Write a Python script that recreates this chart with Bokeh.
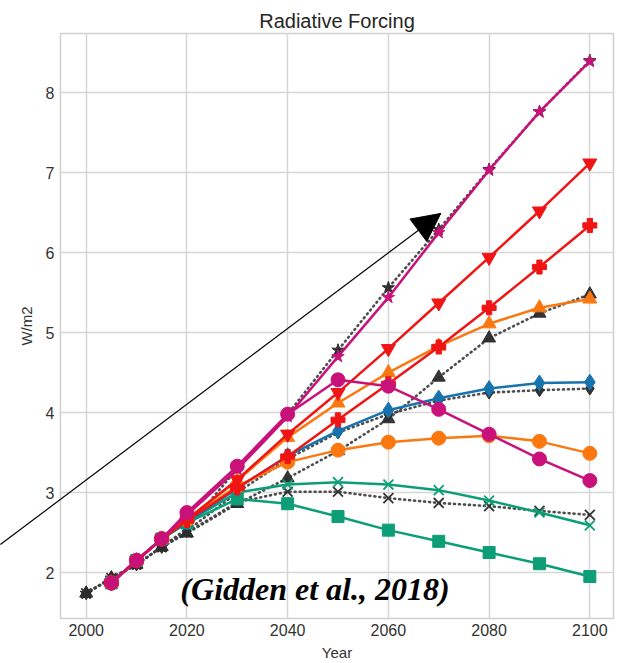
from bokeh.plotting import figure
from bokeh.models import Range1d, FixedTicker, Arrow, NormalHead, Label
from bokeh.embed import file_html
from bokeh.resources import INLINE

# ---- data -------------------------------------------------------------
years_scen = [2005, 2010, 2015, 2020, 2030, 2040, 2050, 2060, 2070, 2080, 2090, 2100]
years_ref = [2000, 2005, 2010, 2015, 2020, 2030, 2040, 2050, 2060, 2070, 2080, 2090, 2100]

# solid scenario lines (IAM results)
ssp119 = [1.87, 2.15, 2.42, 2.62, 2.92, 2.86, 2.70, 2.53, 2.39, 2.25, 2.11, 1.95]
ssp126 = [1.87, 2.15, 2.42, 2.63, 3.00, 3.10, 3.13, 3.10, 3.03, 2.90, 2.75, 2.59]
ssp245 = [1.87, 2.15, 2.42, 2.63, 3.05, 3.46, 3.77, 4.03, 4.18, 4.30, 4.37, 4.38]
ssp434 = [1.87, 2.15, 2.42, 2.66, 3.08, 3.38, 3.53, 3.63, 3.68, 3.71, 3.64, 3.49]
ssp460 = [1.87, 2.15, 2.42, 2.67, 3.15, 3.69, 4.12, 4.50, 4.83, 5.11, 5.31, 5.42]
ssp3lo = [1.87, 2.15, 2.42, 2.65, 3.06, 3.45, 3.91, 4.36, 4.82, 5.31, 5.82, 6.34]
ssp370 = [1.87, 2.15, 2.42, 2.66, 3.16, 3.73, 4.25, 4.80, 5.37, 5.94, 6.52, 7.12]
ssp534 = [1.87, 2.15, 2.42, 2.75, 3.33, 3.98, 4.41, 4.33, 4.04, 3.73, 3.42, 3.15]
ssp585 = [1.87, 2.15, 2.42, 2.72, 3.29, 3.95, 4.70, 5.44, 6.25, 7.03, 7.76, 8.39]

# dotted reference lines
ref26 = [1.74, 1.93, 2.10, 2.32, 2.50, 2.88, 3.01, 3.01, 2.93, 2.87, 2.83, 2.77, 2.72]
ref45 = [1.74, 1.93, 2.10, 2.32, 2.52, 3.00, 3.42, 3.75, 3.98, 4.15, 4.25, 4.28, 4.30]
ref60 = [1.74, 1.93, 2.10, 2.32, 2.49, 2.86, 3.18, 3.52, 3.92, 4.44, 4.93, 5.24, 5.48]
ref85 = [1.74, 1.93, 2.10, 2.32, 2.55, 3.30, 3.98, 4.78, 5.56, 6.29, 7.04, 7.76, 8.40]

x_ticks = [2000, 2020, 2040, 2060, 2080, 2100]
y_ticks = [2, 3, 4, 5, 6, 7, 8]

arrow_start = (1982.96, 2.35)
arrow_tip = (2070.4, 6.49)
citation = "(Gidden et al., 2018)"
citation_pos = (2018.7, 1.79)

GREEN = "#0d9e78"
BLUE = "#1673ae"
ORANGE = "#fb7811"
RED = "#f01515"
MAGENTA = "#c8127a"
DARK = "#2b2b2b"

# ---- figure -----------------------------------------------------------
p = figure(width=617, height=663, output_backend="svg", toolbar_location=None,
           title="Radiative Forcing",
           x_range=Range1d(1994.9, 2104.7), y_range=Range1d(1.425, 8.74),
           min_border_left=60, min_border_right=4, min_border_top=33,
           min_border_bottom=45)

p.background_fill_color = "white"
p.border_fill_color = "white"
p.outline_line_color = "#d0d0d0"
p.outline_line_width = 1.5

p.title.align = "center"
p.title.text_font = "Liberation Sans"
p.title.text_font_size = "20px"
p.title.text_font_style = "normal"
p.title.text_color = "#262626"
p.title.offset = 0
p.title.standoff = 3

for ax in (p.xaxis[0], p.yaxis[0]):
    ax.axis_line_color = None
    ax.major_tick_line_color = None
    ax.minor_tick_line_color = None
    ax.major_tick_out = 0
    ax.major_tick_in = 0
    ax.minor_tick_out = 0
    ax.minor_tick_in = 0
    ax.major_label_text_font = "Liberation Sans"
    ax.major_label_text_font_size = "16px"
    ax.major_label_text_color = "#333333"
    ax.axis_label_text_font = "Liberation Sans"
    ax.axis_label_text_font_size = "15px"
    ax.axis_label_text_font_style = "normal"
    ax.axis_label_text_color = "#333333"

p.xaxis.ticker = FixedTicker(ticks=x_ticks)
p.yaxis.ticker = FixedTicker(ticks=y_ticks)
p.xaxis.axis_label = "Year"
p.yaxis.axis_label = "W/m2"
p.xaxis.major_label_standoff = 5
p.xaxis.axis_label_standoff = 5
p.yaxis.major_label_standoff = 6
p.yaxis.axis_label_standoff = 8

p.xgrid.grid_line_color = "#d6d6d6"
p.ygrid.grid_line_color = "#d6d6d6"
p.xgrid.grid_line_width = 1.5
p.ygrid.grid_line_width = 1.5

# dotted reference pathways
for vals, mk in ((ref26, "x"), (ref45, "diamond"), (ref60, "triangle"), (ref85, "star")):
    p.line(years_ref, vals, line_color="#444444", line_width=2.6, line_dash="1 4",
           line_cap="round", line_alpha=0.95)
    if mk == "x":
        p.scatter(years_ref, vals, marker="x", size=14, line_color="#333333",
                  line_width=1.8)
    else:
        p.scatter(years_ref, vals, marker=mk, size=13, fill_color=DARK,
                  line_color=DARK, fill_alpha=0.95)

# solid scenario pathways
series = [
    (ssp119, GREEN, "square", 12),
    (ssp126, GREEN, "x", 14),
    (ssp245, BLUE, "diamond", 16),
    (ssp434, ORANGE, "circle", 14),
    (ssp460, ORANGE, "triangle", 14),
    (ssp3lo, RED, "plus", 14),
    (ssp370, RED, "inverted_triangle", 14),
    (ssp534, MAGENTA, "circle", 14),
    (ssp585, MAGENTA, "star", 13),
]
for vals, col, mk, size in series:
    p.line(years_scen, vals, line_color=col, line_width=2.5)
    if mk == "x":
        p.scatter(years_scen, vals, marker="x", size=size, line_color=col,
                  line_width=1.8)
    else:
        p.scatter(years_scen, vals, marker=mk, size=size, fill_color=col,
                  line_color=col)

# pointer arrow: shaft as an unclipped overlay segment, head as an Arrow
p.segment(x0=[arrow_start[0]], y0=[arrow_start[1]],
          x1=[arrow_tip[0]], y1=[arrow_tip[1]],
          line_color="black", line_width=1.2, level="overlay")
p.add_layout(Arrow(x_start=arrow_start[0], y_start=arrow_start[1],
                   x_end=arrow_tip[0], y_end=arrow_tip[1],
                   line_alpha=0.0,
                   end=NormalHead(size=28, fill_color="black", line_color="black",
                                  line_width=1)))

p.add_layout(Label(x=citation_pos[0], y=citation_pos[1], text=citation,
                   text_font="Liberation Serif", text_font_size="32px",
                   text_font_style="bold italic", text_color="black",
                   text_baseline="alphabetic", text_align="left"))

open("out.html", "w").write(file_html(p, INLINE))
